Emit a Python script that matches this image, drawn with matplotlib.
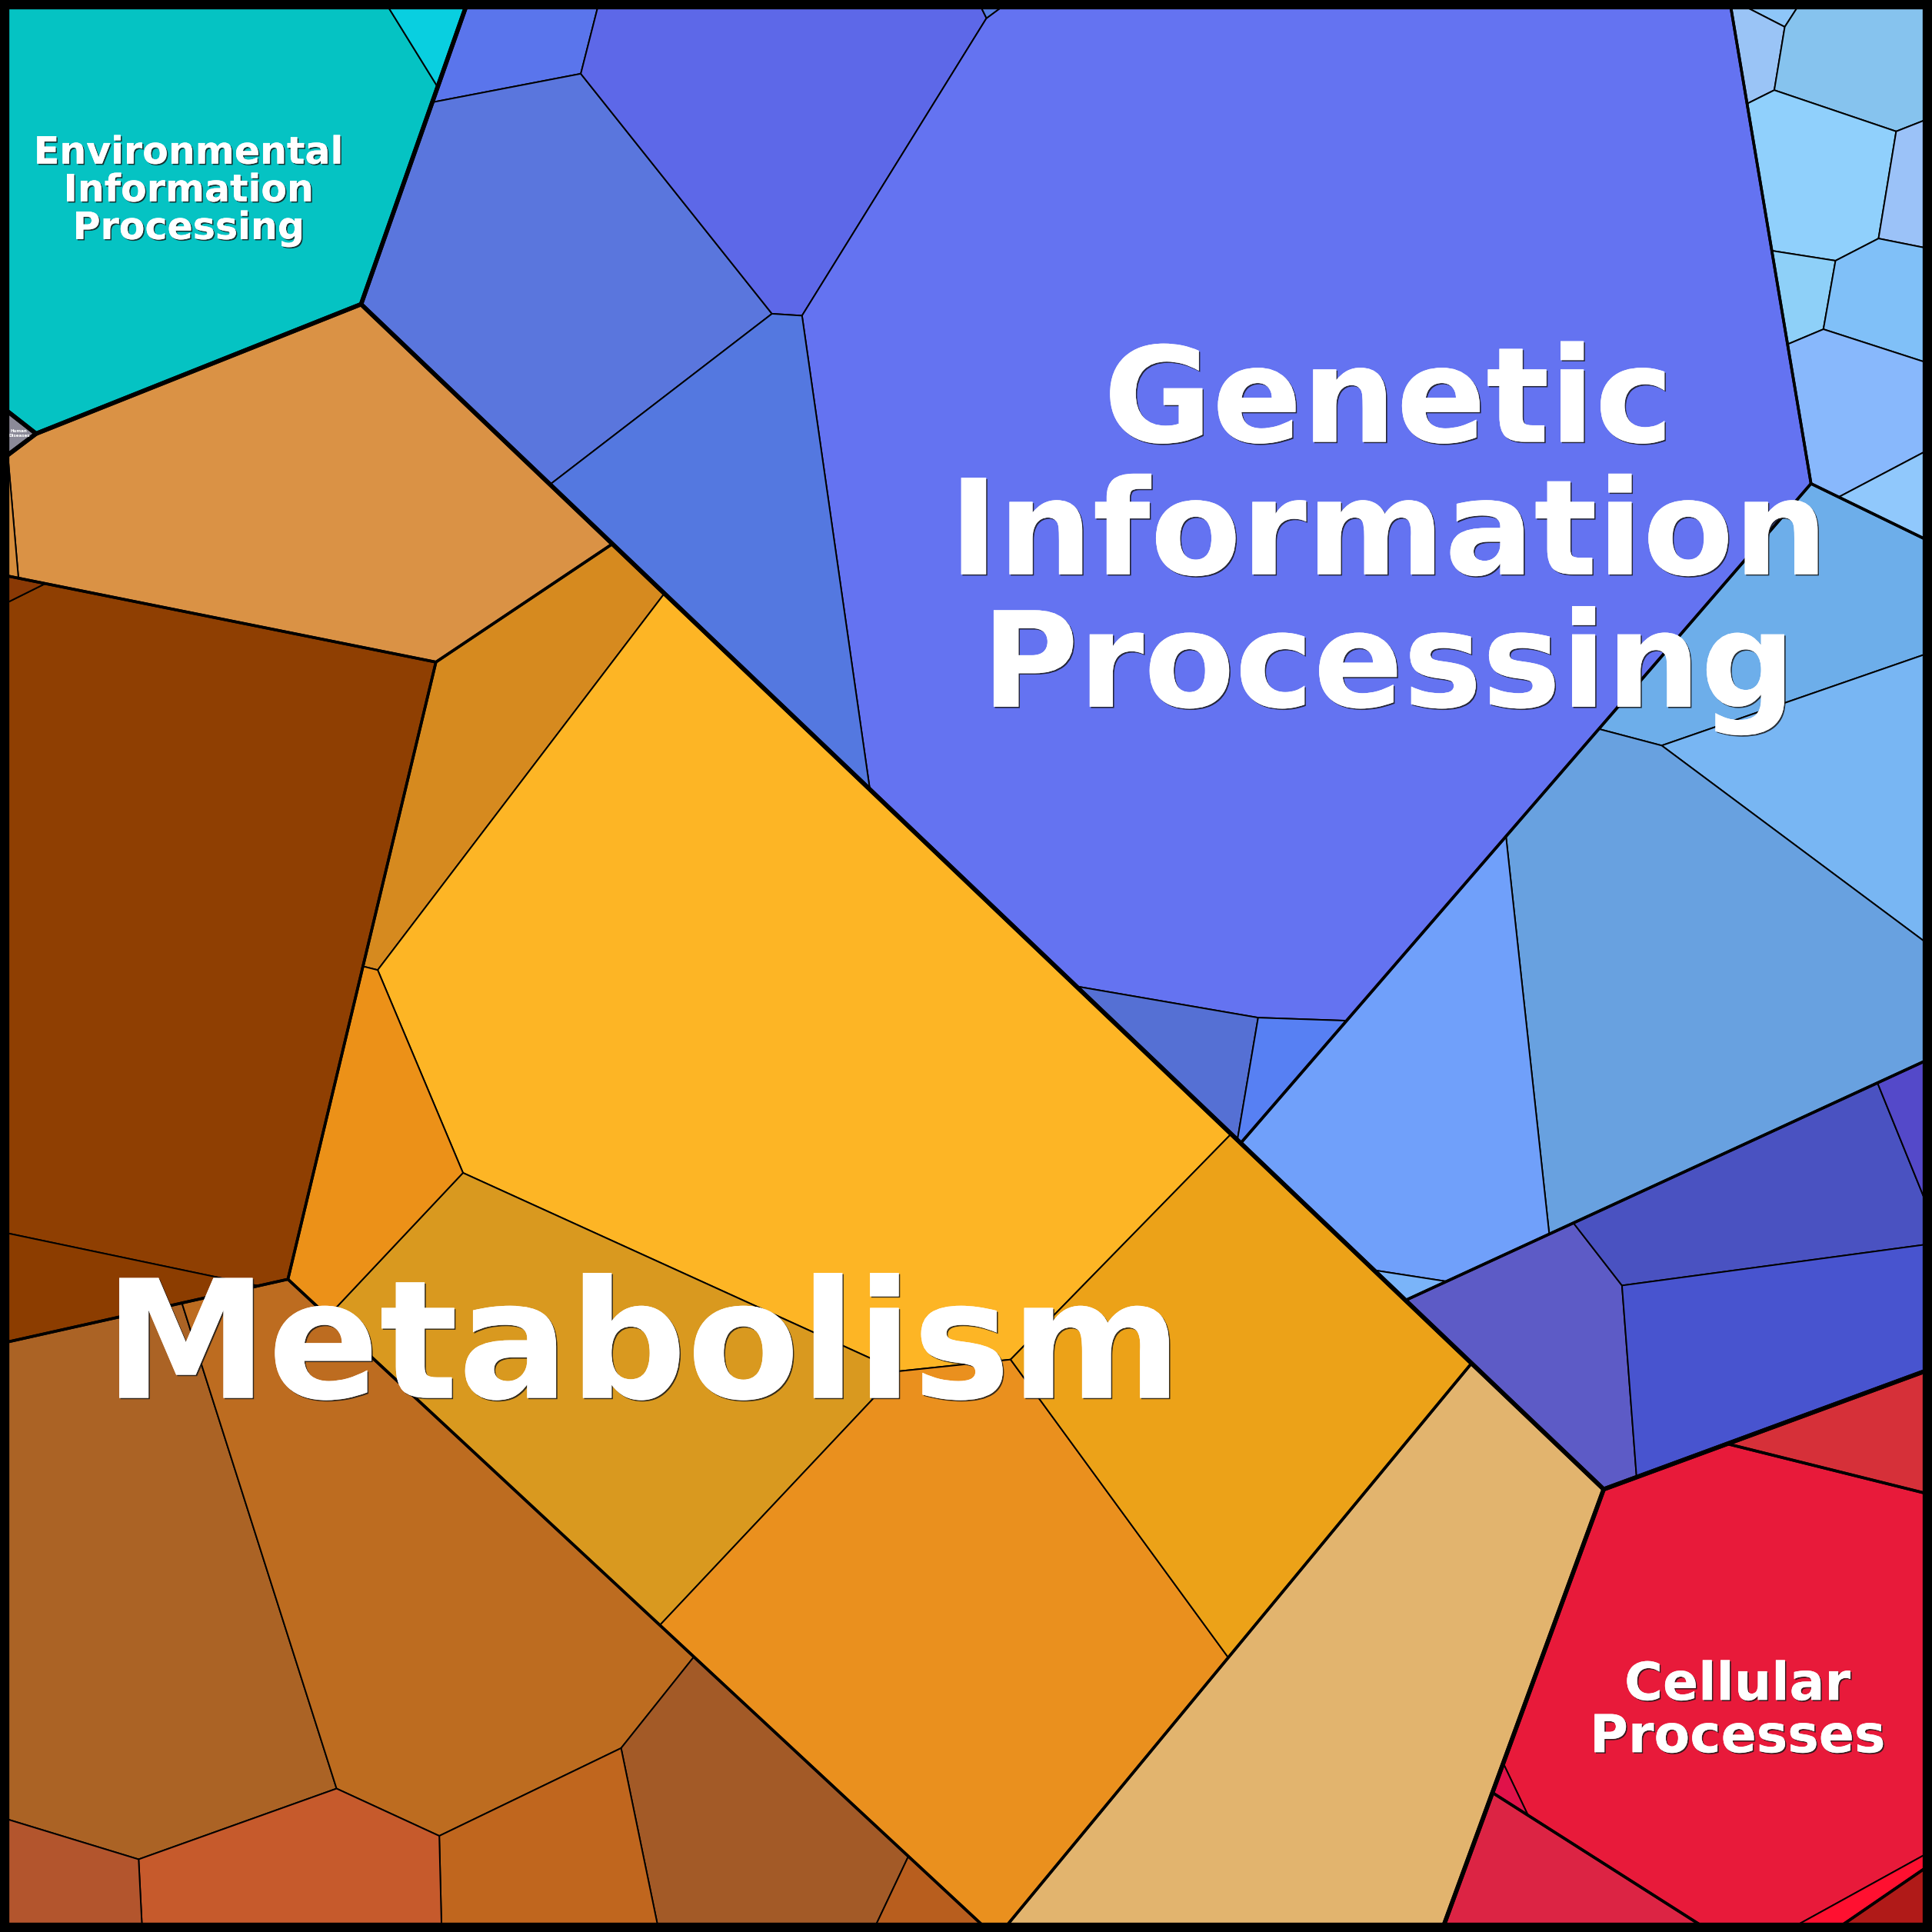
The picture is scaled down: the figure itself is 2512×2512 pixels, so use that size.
import numpy as np
import matplotlib
matplotlib.use('Agg')
import matplotlib.pyplot as plt
from matplotlib.patches import Polygon, Rectangle
import matplotlib.patheffects as pe

# ------------------------------------------------------------------ data
top_ids = ['Env', 'HD', 'Gen', 'Cel', 'Met']
top_labels = ['Environmental\nInformation\nProcessing', 'Human\nDiseases',
              'Genetic\nInformation\nProcessing', 'Cellular\nProcesses', 'Metabolism']

sub_ids = ['Env', 'HD', 'GA', 'GB', 'GC', 'GD', 'CelA', 'CelB', 'CelC', 'CelD',
           'Mtan', 'Mdark', 'Mlow', 'Mora', 'Mlt']
sub_parent = ['Env', 'HD', 'Gen', 'Gen', 'Gen', 'Gen', 'Cel', 'Cel', 'Cel', 'Cel',
              'Met', 'Met', 'Met', 'Met', 'Met']

leaf_ids = ['E1', 'E2', 'H1',
            'A1', 'A2', 'A3', 'A4', 'A5', 'A6', 'A7', 'A8',
            'B1', 'B2', 'B3', 'B4', 'B5', 'B6', 'B7', 'B8', 'B9',
            'C1', 'C2', 'C3', 'C4', 'C5',
            'D1', 'D2', 'D3', 'D4',
            'R1', 'R2', 'R3', 'R4', 'R5', 'R6',
            'M1', 'M2', 'M3', 'M4', 'M5', 'M6', 'M7', 'M8', 'M9', 'M10',
            'M11', 'M12', 'M13', 'M14', 'M15', 'M16', 'M17', 'M18', 'M19']
leaf_sub = ['Env', 'Env', 'HD',
            'GA', 'GA', 'GA', 'GA', 'GA', 'GA', 'GA', 'GA',
            'GB', 'GB', 'GB', 'GB', 'GB', 'GB', 'GB', 'GB', 'GB',
            'GC', 'GC', 'GC', 'GC', 'GC',
            'GD', 'GD', 'GD', 'GD',
            'CelA', 'CelB', 'CelB', 'CelC', 'CelB', 'CelD',
            'Mtan', 'Mtan', 'Mdark', 'Mdark', 'Mdark', 'Mlow', 'Mlow', 'Mlow', 'Mlow', 'Mlow',
            'Mlow', 'Mlow', 'Mora', 'Mora', 'Mora', 'Mora', 'Mora', 'Mora', 'Mlt']
leaf_values = [3.9496, 0.0982, 0.0268,
               0.3188, 2.6345, 2.0462, 21.1737, 1.8236, 0.3061, 0.1555, 0.0082,
               0.0251, 0.0923, 0.4576, 0.4956, 0.1423, 0.1080, 0.2758, 0.4717, 0.1180,
               1.1902, 1.0667, 3.6268, 2.0118, 0.0245,
               0.8637, 1.0617, 0.1163, 1.2960,
               0.3458, 4.3518, 0.0173, 0.5032, 0.0687, 0.0916,
               3.5233, 0.0417, 6.3263, 0.0192, 0.3870, 3.6387, 3.8005, 1.3237, 0.7708, 0.1186,
               0.9004, 0.3514, 1.1500, 9.6194, 3.3096, 0.8052, 4.7448, 3.2274, 4.4009]

# ------------------------------------------------------------------ styles
leaf_colors = ['#05c3c3', '#09cfe0', '#8b8a98',
               '#5a75ec', '#5a76dd', '#5d68e8', '#6473f1', '#5478e0', '#5570d4', '#5780f3', '#5a80e6',
               '#8ec6f8', '#9ac4f6', '#86c3ee', '#90d0fc', '#9bc2f8', '#8ed0f8', '#80c0f8', '#88b8fc', '#90c8fc',
               '#6daeea', '#78b6f3', '#68a1e0', '#70a0fa', '#7ab4f9',
               '#5d5bc6', '#4a52c1', '#5449c9', '#4854cf',
               '#d63039', '#e81a3a', '#e0124a', '#dc2444', '#ff1030', '#b01a18',
               '#da9245', '#d68d3c', '#8f3f02', '#8a3905', '#8c3d00', '#ab6325', '#bd6c20', '#a35a27',
               '#c0661e', '#b85e1e', '#c65a2c', '#b3552d', '#d68a1f', '#fdb525', '#d9991f', '#ec9118',
               '#ea901e', '#eca218', '#e2b46e']
LW_LEAF, LW_SUB, LW_TOP = 1.4, 2.6, 4.0

# ------------------------------------------------------------------ layout (seed sites, 1e-4 of side)
site_top = {'Env': (1057, 955), 'HD': (21, 2279), 'Gen': (6834, 2991),
            'Cel': (8941, 8721), 'Met': (3331, 6664)}
site_sub = {'GA': (5663, 2251), 'GB': (9757, 1562), 'GC': (8309, 4539), 'GD': (9223, 6523),
            'CelA': (9365, 7367), 'CelB': (9035, 8690), 'CelC': (8258, 9911), 'CelD': (9845, 9870),
            'Mtan': (1604, 2444), 'Mdark': (1006, 5419), 'Mlow': (1738, 8690),
            'Mora': (4092, 6159), 'Mlt': (7132, 8672)}
site_leaf = {'E1': (967, 939), 'E2': (2228, 159),
             'A1': (2659, 249), 'A2': (2891, 1455), 'A3': (3982, 586), 'A4': (6725, 2287),
             'A5': (3848, 2699), 'A6': (6185, 5421), 'A7': (6615, 5494), 'A8': (5076, 45),
             'B1': (9191, 42), 'B2': (9093, 233), 'B3': (9624, 321), 'B4': (9427, 903),
             'B5': (9882, 978), 'B6': (9336, 1484), 'B7': (9766, 1560), 'B8': (9593, 2095),
             'B9': (9836, 2556),
             'C1': (9273, 3188), 'C2': (9592, 4109), 'C3': (8722, 5276), 'C4': (7407, 5419),
             'C5': (7220, 6627),
             'D1': (8025, 7005), 'D2': (9106, 6166), 'D3': (9927, 5833), 'D4': (9207, 6915),
             'R2': (9012, 8723), 'R3': (7811, 9295), 'R5': (9626, 9837),
             'M1': (1551, 2582), 'M2': (36, 2713), 'M3': (895, 4863), 'M4': (9, 3082),
             'M5': (550, 6506), 'M6': (849, 8410), 'M7': (2086, 8016), 'M8': (3888, 9453),
             'M9': (2880, 9661), 'M10': (4778, 9874), 'M11': (1310, 9700), 'M12': (442, 9744),
             'M13': (2545, 3800), 'M14': (4238, 5089), 'M15': (3261, 7236), 'M16': (1986, 6036),
             'M17': (4594, 8491), 'M18': (6382, 7185)}
# label: (x, first baseline y) in 1/1568 of side, font size pt
label_layout = {'Env': (153.1, 132.8, 35.3), 'HD': (15.5, 351.0, 4),
                'Gen': (1127.0, 358.6, 124), 'Cel': (1410.0, 1379.6, 49),
                'Met': (522.0, 1134.5, 154)}

FIG_PX = 2512
DPI = 100


# ------------------------------------------------------------------ power diagram (Voronoi treemap)
def parea(p):
    if len(p) < 3:
        return 0.0
    p = np.asarray(p, float); x, y = p[:, 0], p[:, 1]
    return 0.5 * abs(np.dot(x, np.roll(y, -1)) - np.dot(y, np.roll(x, -1)))


def clip(poly, a, b):
    out = []
    n = len(poly)
    for k in range(n):
        P = poly[k]; Q = poly[(k + 1) % n]
        fp = a[0] * P[0] + a[1] * P[1] - b
        fq = a[0] * Q[0] + a[1] * Q[1] - b
        if fp <= 0:
            out.append(P)
        if (fp < 0 < fq) or (fq < 0 < fp):
            t = fp / (fp - fq)
            out.append((P[0] + t * (Q[0] - P[0]), P[1] + t * (Q[1] - P[1])))
    return out


def power_cells(region, P, w):
    n = len(P); cells = []
    for i in range(n):
        poly = list(region)
        for j in range(n):
            if j == i:
                continue
            a = 2 * (P[j] - P[i]); b = P[j] @ P[j] - P[i] @ P[i] - w[j] + w[i]
            poly = clip(poly, a, b)
            if len(poly) < 3:
                poly = []; break
        cells.append(poly)
    return cells


def hess(cells, P, w, tol):
    n = len(P); H = np.zeros((n, n))
    for i in range(n):
        poly = cells[i]; m = len(poly)
        for k in range(m):
            A = np.array(poly[k]); B = np.array(poly[(k + 1) % m])
            Ln = np.linalg.norm(B - A)
            if Ln < 1e-12:
                continue
            M = (A + B) / 2
            for j in range(n):
                if j == i:
                    continue
                d = P[j] - P[i]; dn = np.linalg.norm(d)
                b = P[j] @ P[j] - P[i] @ P[i] - w[j] + w[i]
                if abs((2 * d @ M - b) / (2 * dn)) < tol:
                    H[i, j] -= Ln / (2 * dn); H[i, i] += Ln / (2 * dn)
                    break
    return H


def treemap_level(region, P, T, iters=150):
    """Power diagram of `region` whose cells have areas proportional to T."""
    n = len(P)
    if n == 1:
        return [list(region)]
    P = np.asarray(P, float)
    T = np.asarray(T, float); T = T / T.sum() * parea(region)
    scale = np.sqrt(parea(region))
    w = np.zeros(n)
    cells = power_cells(region, P, w)
    A = np.array([parea(c) for c in cells])
    k = 0
    while (A <= 0).any() and k < 60:
        w[A <= 0] += (0.02 * scale) ** 2 * 2 ** (k / 4)
        cells = power_cells(region, P, w); A = np.array([parea(c) for c in cells]); k += 1
    for it in range(iters):
        e = np.sum((A - T) ** 2)
        if np.max(np.abs(A - T) / T) < 1e-6:
            break
        H = hess(cells, P, w, 1e-7 * scale)
        dw = np.zeros(n)
        dw[1:] = np.linalg.lstsq(H[1:, 1:], (T - A)[1:], rcond=None)[0]
        step = 1.0; ok = False
        while step > 1e-5:
            w2 = w + step * dw
            c2 = power_cells(region, P, w2); A2 = np.array([parea(c) for c in c2])
            if (A2 > 0).all() and np.sum((A2 - T) ** 2) < e:
                ok = True; break
            step /= 2
        if not ok:
            break
        w, cells, A = w2, c2, A2
    return cells


def s(xy):
    return np.array(xy, float) / 1e4


values = np.array(leaf_values, float)
square = [(0.0, 0.0), (1.0, 0.0), (1.0, 1.0), (0.0, 1.0)]

top_vals = [values[[sub_parent[sub_ids.index(ls)] == t for ls in leaf_sub]].sum() for t in top_ids]
top_cells = dict(zip(top_ids, treemap_level(square, [s(site_top[t]) for t in top_ids], top_vals)))

sub_cells, leaf_cells = {}, {}
for t in top_ids:
    subs_t = [sb for sb, p in zip(sub_ids, sub_parent) if p == t]
    sv = [values[[ls == sb for ls in leaf_sub]].sum() for sb in subs_t]
    if len(subs_t) > 1:
        sc = treemap_level(top_cells[t], [s(site_sub[sb]) for sb in subs_t], sv)
    else:
        sc = [top_cells[t]]
    for sb, c in zip(subs_t, sc):
        sub_cells[sb] = c
        idx = [i for i, ls in enumerate(leaf_sub) if ls == sb]
        if len(idx) > 1:
            lc = treemap_level(c, [s(site_leaf[leaf_ids[i]]) for i in idx], values[idx])
        else:
            lc = [c]
        for i, cc in zip(idx, lc):
            leaf_cells[i] = cc

# ------------------------------------------------------------------ draw
fig = plt.figure(figsize=(FIG_PX / DPI, FIG_PX / DPI), dpi=DPI)
ax = fig.add_axes([0, 0, 1, 1])
ax.set_xlim(0, 1); ax.set_ylim(1, 0); ax.axis('off')

for i in range(len(leaf_ids)):
    c = leaf_cells[i]
    if len(c) >= 3:
        ax.add_patch(Polygon(c, closed=True, fc=leaf_colors[i], ec='black', lw=LW_LEAF,
                             joinstyle='miter'))
for sb, c in sub_cells.items():
    if len(c) >= 3:
        ax.add_patch(Polygon(c, closed=True, fc='none', ec='black', lw=LW_SUB, joinstyle='miter'))
for t, c in top_cells.items():
    if len(c) >= 3:
        ax.add_patch(Polygon(c, closed=True, fc='none', ec='black', lw=LW_TOP, joinstyle='miter'))

ax.add_patch(Rectangle((0, 0), 1, 1, fill=False, ec='black', lw=17.5, clip_on=False))

effects = [pe.withSimplePatchShadow(offset=(1.2, -1.2), shadow_rgbFace='#1a1a1a', alpha=0.85),
           pe.Normal()]
for t, lab in zip(top_ids, top_labels):
    x, y0, fs = label_layout[t]
    em = fs * DPI / 72 / FIG_PX
    for k, line in enumerate(lab.split('\n')):
        ax.text(x / 1568, y0 / 1568 + k * em, line, ha='center', va='baseline',
                fontsize=fs, fontweight='bold', color='white', family='DejaVu Sans',
                path_effects=effects if fs > 10 else None)

fig.savefig('out.png', dpi=DPI)
